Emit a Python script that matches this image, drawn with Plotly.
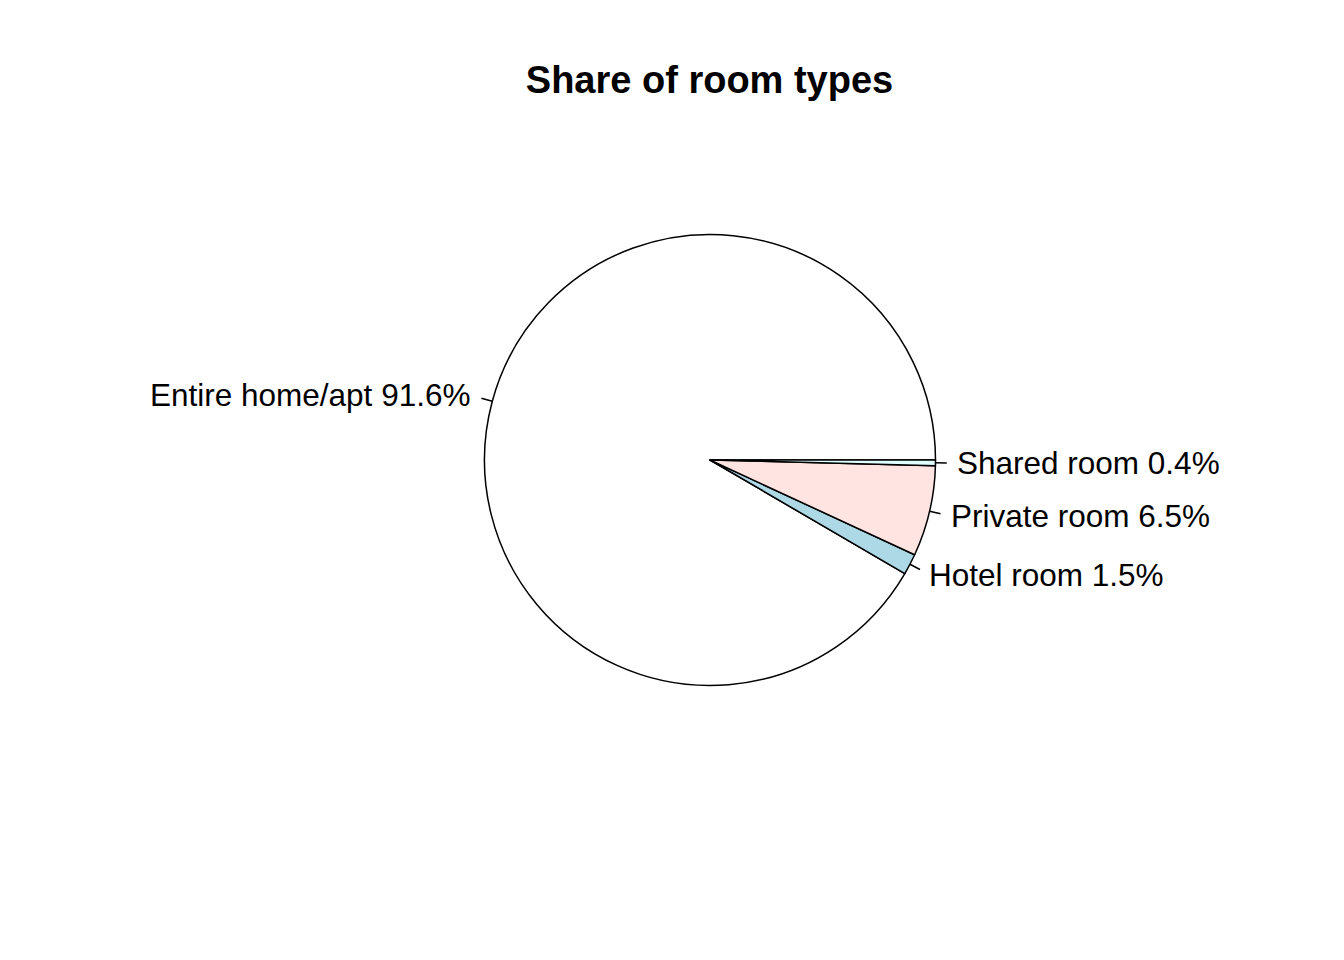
import math
import plotly.graph_objects as go

categories = ["Entire home/apt", "Hotel room", "Private room", "Shared room"]
shares = [91.6, 1.5, 6.5, 0.4]
colors = ["#FFFFFF", "#ADD8E6", "#FFE4E1", "#E0FFFF"]
title_text = "Share of room types"

# page has an 8px body margin; figure coordinates = page coordinates - 8
OFF = 8
W, H = 1344 - 2 * OFF, 960 - 2 * OFF
cx_px, cy_px, R_px = 710.0 - OFF, 460.0 - OFF, 225.5
font_family = "Arial, Liberation Sans, sans-serif"

total = sum(shares)
# R pie: first slice starts at 3 o'clock and runs counterclockwise.
# Plotly (counterclockwise): first slice occupies [rotation, rotation+v] clockwise from 12 o'clock.
rotation = 90 - 360 * shares[0] / total + 360

fig = go.Figure()
fig.add_trace(go.Pie(
    labels=categories,
    values=shares,
    sort=False,
    direction="counterclockwise",
    rotation=rotation,
    marker=dict(colors=colors, line=dict(color="black", width=1.5)),
    textinfo="none",
    hoverinfo="label+percent",
    showlegend=False,
    domain=dict(
        x=[(cx_px - R_px) / W, (cx_px + R_px) / W],
        y=[1 - (cy_px + R_px) / H, 1 - (cy_px - R_px) / H],
    ),
))

cum = 0.0
annotations = []
shapes = []
for cat, v in zip(categories, shares):
    mid = 2 * math.pi * (cum + v / 2) / total
    cum += v
    c, s = math.cos(mid), math.sin(mid)
    x0 = cx_px + R_px * c
    y0 = cy_px - R_px * s
    x1 = cx_px + 1.05 * R_px * c
    y1 = cy_px - 1.05 * R_px * s
    shapes.append(dict(type="line", xref="paper", yref="paper",
                       x0=x0 / W, y0=1 - y0 / H, x1=x1 / W, y1=1 - y1 / H,
                       line=dict(color="black", width=1.5)))
    tx = cx_px + 1.1 * R_px * c
    ty = cy_px - 1.1 * R_px * s
    annotations.append(dict(
        xref="paper", yref="paper", x=tx / W, y=1 - ty / H,
        xshift=-2 if c >= 0 else 0,
        text=f"{cat} {v}%", showarrow=False,
        xanchor="left" if c >= 0 else "right", yanchor="middle",
        borderpad=0,
        font=dict(family=font_family, size=31.5, color="black"),
    ))

fig.update_layout(
    width=W, height=H,
    margin=dict(l=0, r=0, t=0, b=0),
    paper_bgcolor="white", plot_bgcolor="white",
    title=dict(text=f"<b>{title_text}</b>", x=(709.5 - OFF) / W, xanchor="center",
               y=1 - (80 - OFF) / H, yanchor="middle",
               font=dict(family=font_family, size=38, color="black")),
    annotations=annotations,
    shapes=shapes,
)

fig.write_html("out.html")
